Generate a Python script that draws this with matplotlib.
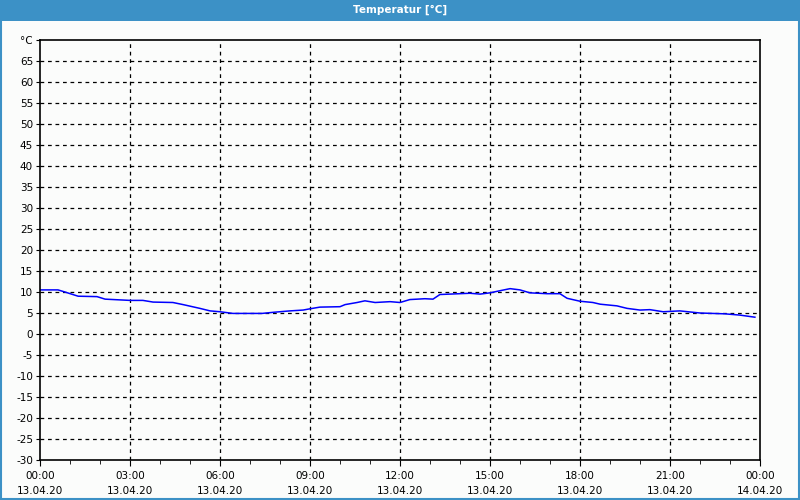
import numpy as np
import matplotlib
matplotlib.use("Agg")
import matplotlib.pyplot as plt
from matplotlib.patches import Rectangle

# Messwerte (Stunden ab 13.04.20 00:00, Temperatur in °C)
stunden = [0, 0.6, 0.83, 1.27, 1.9, 2.17, 3.0, 3.43, 3.77, 4.43, 4.77, 5.33, 5.67,
           6.0, 6.43, 7.4, 7.83, 8.33, 8.77, 9.0, 9.33, 10.0, 10.17, 10.57, 10.83,
           11.17, 11.67, 12.0, 12.33, 12.83, 13.1, 13.33, 14.33, 14.67, 15.0, 15.33,
           15.67, 16.0, 16.33, 16.9, 17.33, 17.57, 18.0, 18.43, 18.67, 19.23, 19.57,
           20.0, 20.33, 20.77, 21.33, 22.0, 22.83, 23.33, 23.83]
temperatur = [10.5, 10.5, 10.0, 9.0, 8.9, 8.3, 8.0, 8.0, 7.6, 7.5, 7.0, 6.1, 5.5,
              5.3, 4.9, 4.9, 5.2, 5.5, 5.7, 6.0, 6.4, 6.5, 7.0, 7.5, 7.9,
              7.5, 7.7, 7.5, 8.2, 8.4, 8.3, 9.4, 9.7, 9.5, 9.8, 10.3,
              10.8, 10.5, 9.8, 9.6, 9.6, 8.5, 7.8, 7.5, 7.1, 6.7, 6.1,
              5.7, 5.8, 5.3, 5.5, 5.0, 4.8, 4.5, 4.0]

zeit_labels = ["00:00\n13.04.20", "03:00\n13.04.20", "06:00\n13.04.20", "09:00\n13.04.20",
               "12:00\n13.04.20", "15:00\n13.04.20", "18:00\n13.04.20", "21:00\n13.04.20",
               "00:00\n14.04.20"]
y_werte = list(range(-30, 70, 5))

bg = "#fbfcfb"
blau = "#3c91c6"

fig = plt.figure(figsize=(8, 5), dpi=100, facecolor=bg)
ax = fig.add_axes([0.05, 0.08, 0.9, 0.84], facecolor=bg)

ax.plot(stunden, temperatur, color="#0000ff", lw=1.1)

ax.set_xlim(0, 24)
ax.set_ylim(-30, 70)
ax.set_xticks(np.arange(0, 25, 3))
ax.set_xticklabels(zeit_labels, linespacing=1.55)
ax.set_xticks(np.arange(0, 25, 1), minor=True)
ax.set_yticks(y_werte + [70])
ax.set_yticklabels([str(v) for v in y_werte] + ["°C"])

ax.tick_params(axis="both", which="both", labelsize=7.5, direction="out", color="black")
ax.tick_params(axis="x", which="major", length=4, pad=4)
ax.tick_params(axis="x", which="minor", length=3)
ax.tick_params(axis="y", length=3, pad=2)

for s in ax.spines.values():
    s.set_linewidth(1.2)
    s.set_color("black")

ax.grid(True, which="major", color="black", lw=0.9, linestyle=(0, (3, 3)))
# keine Gitterlinie auf dem Rand
ax.yaxis.get_gridlines()[-1].set_visible(False)
ax.yaxis.get_gridlines()[0].set_visible(False)
ax.xaxis.get_gridlines()[0].set_visible(False)
ax.xaxis.get_gridlines()[-1].set_visible(False)

# Titelleiste und Rahmen
fig.patches.append(Rectangle((0, 0.959), 1, 0.041, transform=fig.transFigure,
                             facecolor=blau, edgecolor="none", zorder=0))
fig.patches.append(Rectangle((0.001, 0.002), 0.998, 0.99, transform=fig.transFigure,
                             facecolor="none", edgecolor=blau, lw=1.5, zorder=0))
fig.text(0.5, 0.98, "Temperatur [°C]", color="white", fontsize=7.5, fontweight="bold",
         ha="center", va="center")

fig.savefig("out.png", dpi=100, facecolor=bg)
